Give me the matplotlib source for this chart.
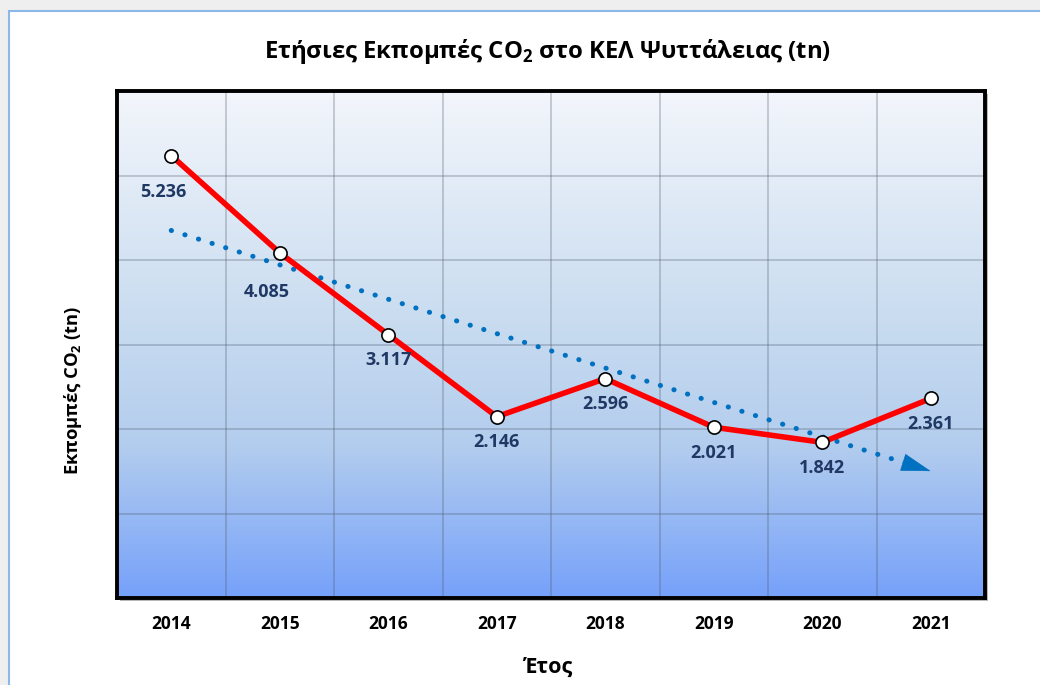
import matplotlib
matplotlib.use("Agg")
import matplotlib.pyplot as plt
import numpy as np
from matplotlib.colors import LinearSegmentedColormap
from matplotlib.patches import Rectangle

plt.rcParams["font.family"] = ["Open Sans", "DejaVu Sans"]
plt.rcParams["mathtext.fontset"] = "custom"
plt.rcParams["mathtext.bf"] = "Open Sans:bold"
plt.rcParams["mathtext.rm"] = "Open Sans"

# ── data ──
years = ["2014", "2015", "2016", "2017", "2018", "2019", "2020", "2021"]
emissions = [5236, 4085, 3117, 2146, 2596, 2021, 1842, 2361]
value_labels = ["5.236", "4.085", "3.117", "2.146", "2.596", "2.021", "1.842", "2.361"]

RED = "#FF0000"
NAVY = "#1F3864"
TREND = "#0070C0"

W_PX, H_PX = 1040, 685
fig = plt.figure(figsize=(W_PX / 100, H_PX / 100), dpi=100, facecolor="#EFEFEF")

# chart frame (white area with thin blue border, runs off right/bottom)
fig.patches.append(Rectangle((9 / W_PX, -0.1), 1.2, (H_PX - 11) / H_PX + 0.1,
                             transform=fig.transFigure, facecolor="white",
                             edgecolor="#8AB8E8", linewidth=1.5, zorder=-5))

L, R, T, B = 117, 985, 91, 598
ax = fig.add_axes([L / W_PX, 1 - B / H_PX, (R - L) / W_PX, (B - T) / H_PX], zorder=2)

# soft shadow bottom/right of the plot frame
fig.patches.append(Rectangle(((L + 3) / W_PX, 1 - (B + 3) / H_PX), (R - L) / W_PX,
                             (B - T) / H_PX, transform=fig.transFigure,
                             facecolor="#B8B8B8", edgecolor="none", zorder=1))

x = np.arange(len(years))
ax.set_xlim(-0.5, len(years) - 0.5)

# gradient background (light at top, blue at bottom)
cmap = LinearSegmentedColormap.from_list(
    "bg", [(0, "#F3F6FB"), (0.45, "#C9DCF0"), (0.7, "#B3CDEE"), (1, "#76A1FA")])
grad = np.linspace(0, 1, 256).reshape(-1, 1)
ax.imshow(grad, cmap=cmap, aspect="auto", origin="upper",
          extent=(-0.5, len(years) - 0.5, 0, 6000), zorder=0)
ax.set_ylim(0, 6000)

# grid
for yv in range(1000, 6000, 1000):
    ax.axhline(yv, color="#4A5566", alpha=0.35, linewidth=1.1, zorder=1)
for xv in np.arange(0.5, len(years) - 0.5, 1):
    ax.axvline(xv, color="#4A5566", alpha=0.35, linewidth=1.1, zorder=1)

# linear trend, dotted with arrow head
slope, intercept = np.polyfit(x, emissions, 1)
x_end = len(years) - 1
tx = np.linspace(0, x_end - 0.25, 50)
ax.plot(tx, slope * tx + intercept, color=TREND, linewidth=3.6,
        linestyle=(0, (0.05, 2.8)), dash_capstyle="round", zorder=2)
ax.annotate("", xy=(x_end, slope * x_end + intercept),
            xytext=(x_end - 0.26, slope * (x_end - 0.26) + intercept),
            arrowprops=dict(arrowstyle="-|>,head_length=1.0,head_width=0.3",
                            mutation_scale=20, color=TREND, lw=0.5,
                            shrinkA=0, shrinkB=0), zorder=2)

# main series
ax.plot(x, emissions, color=RED, linewidth=4, zorder=3, solid_capstyle="round")
ax.plot(x, emissions, linestyle="none", marker="o", markersize=9.5,
        markerfacecolor="white", markeredgecolor="black", markeredgewidth=1.2, zorder=4)

# label nudges (points) so the first two clear the steep segment
nudges = [(-6, -8), (-9, -10)] + [(0, 0)] * (len(years) - 2)
for i, (v, lab) in enumerate(zip(emissions, value_labels)):
    dx, dy = nudges[i]
    ax.annotate(lab, (i, v), xytext=(dx, -12 + dy), textcoords="offset points",
                ha="center", va="top", fontsize=13, fontweight="bold", color=NAVY,
                zorder=5)

ax.set_xticks(x)
ax.set_xticklabels(years, fontsize=12.5, fontweight="bold")
ax.set_yticks([])
ax.tick_params(axis="x", length=0, pad=12)
for s in ax.spines.values():
    s.set_linewidth(2.8)
    s.set_color("black")
    s.set_zorder(6)

fig.text(548 / W_PX, 1 - 52 / H_PX, r"Ετήσιες Εκπομπές CO$_\mathbf{2}$ στο ΚΕΛ Ψυττάλειας (tn)",
         ha="center", va="center", fontsize=17.2, fontweight="bold")
fig.text(73 / W_PX, 1 - 390 / H_PX, r"Εκπομπές CO$_\mathbf{2}$ (tn)", rotation=90,
         ha="center", va="center", fontsize=13.2, fontweight="bold")
fig.text(548 / W_PX, 1 - 667 / H_PX, "Έτος", ha="center", va="center",
         fontsize=15.5, fontweight="bold")

fig.savefig("out.png", dpi=100, facecolor=fig.get_facecolor())
